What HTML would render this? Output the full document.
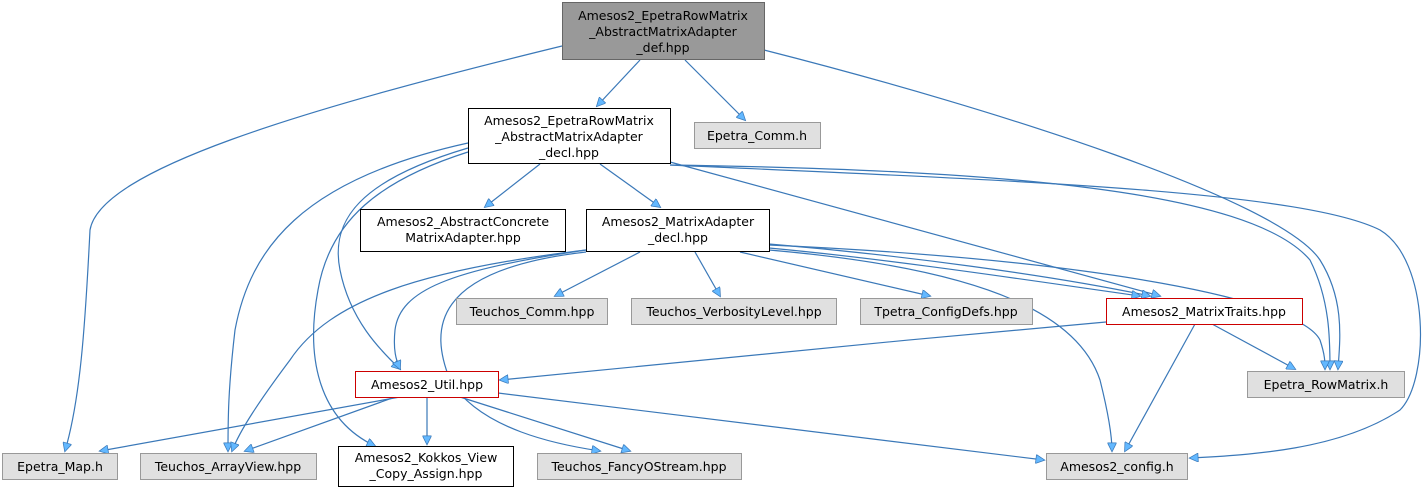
<!DOCTYPE html>
<html><head><meta charset="utf-8"><style>
html,body{margin:0;padding:0;background:#fff;}
svg{display:block;}
text{font-family:"DejaVu Sans","Liberation Sans",sans-serif;font-size:12.5px;fill:#000;}
.e{fill:none;stroke:#3a78b8;stroke-width:1.2;marker-end:url(#a);}
</style></head><body>
<svg width="1425" height="491" viewBox="0 0 1425 491">
<defs><marker id="a" viewBox="0 0 10 10" refX="9" refY="5" markerWidth="11" markerHeight="9" markerUnits="userSpaceOnUse" orient="auto"><path d="M0,0 L10,5 L0,10 z" fill="#63b8ff" stroke="#3a78b8" stroke-width="0.8"/></marker></defs>

<path class="e" d="M640,60 L597,106"/>
<path class="e" d="M685,60 L745,120"/>
<path class="e" d="M562,46 C300,110 100,170 90,230 C85,330 80,400 65,451"/>
<path class="e" d="M764,50 C1000,110 1280,200 1320,260 C1345,300 1340,340 1338,369"/>
<path class="e" d="M540,164 L485,207"/>
<path class="e" d="M600,164 L660,207"/>
<path class="e" d="M670,162 L1160,296"/>
<path class="e" d="M670,165 C1000,170 1250,190 1310,260 C1330,300 1330,340 1330,369"/>
<path class="e" d="M670,165 C1000,180 1300,190 1380,230 C1430,260 1430,380 1400,410 C1340,450 1250,455 1190,458"/>
<path class="e" d="M468,143 C300,180 250,250 235,330 C228,390 228,420 228,451"/>
<path class="e" d="M468,148 C360,180 330,220 340,270 C350,320 380,350 400,369"/>
<path class="e" d="M468,152 C380,180 330,220 318,290 C305,360 320,420 375,446"/>
<path class="e" d="M640,252 L555,296"/>
<path class="e" d="M695,252 L720,296"/>
<path class="e" d="M740,252 L930,296"/>
<path class="e" d="M769,244 C900,255 1050,275 1150,296"/>
<path class="e" d="M769,248 C900,260 1060,285 1140,296"/>
<path class="e" d="M586,250 C450,270 400,290 395,330 C393,350 396,360 400,369"/>
<path class="e" d="M586,250 C420,270 330,300 290,360 C260,400 240,430 232,451"/>
<path class="e" d="M586,252 C430,270 430,330 450,380 C480,430 560,445 600,451"/>
<path class="e" d="M769,250 C1000,270 1080,320 1100,380 C1110,420 1112,440 1112,451"/>
<path class="e" d="M769,245 C1100,260 1300,300 1320,340 C1325,355 1325,362 1325,369"/>
<path class="e" d="M1106,322 C900,340 650,365 500,380"/>
<path class="e" d="M1212,324 L1295,369"/>
<path class="e" d="M1195,324 L1125,451"/>
<path class="e" d="M400,397 L100,451"/>
<path class="e" d="M395,397 L245,451"/>
<path class="e" d="M427,397 L427,444"/>
<path class="e" d="M460,397 L630,451"/>
<path class="e" d="M498,393 L1044,460"/>

<rect x="562.5" y="2.5" width="202" height="57" fill="#999" stroke="#666"/>
<text x="663" y="20" text-anchor="middle">Amesos2_EpetraRowMatrix</text>
<text x="663" y="36" text-anchor="middle">_AbstractMatrixAdapter</text>
<text x="663" y="52" text-anchor="middle">_def.hpp</text>

<rect x="468.5" y="108.5" width="202" height="55" fill="#fff" stroke="#000"/>
<text x="569" y="125" text-anchor="middle">Amesos2_EpetraRowMatrix</text>
<text x="569" y="141" text-anchor="middle">_AbstractMatrixAdapter</text>
<text x="569" y="157" text-anchor="middle">_decl.hpp</text>

<rect x="694.5" y="122.5" width="126" height="26" fill="#e0e0e0" stroke="#999"/>
<text x="757" y="140" text-anchor="middle">Epetra_Comm.h</text>

<rect x="360.5" y="209.5" width="205" height="42" fill="#fff" stroke="#000"/>
<text x="463" y="226" text-anchor="middle">Amesos2_AbstractConcrete</text>
<text x="463" y="242" text-anchor="middle">MatrixAdapter.hpp</text>

<rect x="586.5" y="209.5" width="183" height="42" fill="#fff" stroke="#000"/>
<text x="678" y="226" text-anchor="middle">Amesos2_MatrixAdapter</text>
<text x="678" y="242" text-anchor="middle">_decl.hpp</text>

<rect x="456.5" y="298.5" width="151" height="26" fill="#e0e0e0" stroke="#999"/>
<text x="532" y="316" text-anchor="middle">Teuchos_Comm.hpp</text>

<rect x="631.5" y="298.5" width="205" height="26" fill="#e0e0e0" stroke="#999"/>
<text x="734" y="316" text-anchor="middle">Teuchos_VerbosityLevel.hpp</text>

<rect x="860.5" y="298.5" width="172" height="26" fill="#e0e0e0" stroke="#999"/>
<text x="946" y="316" text-anchor="middle">Tpetra_ConfigDefs.hpp</text>

<rect x="1106.5" y="298.5" width="196" height="26" fill="#fff" stroke="#c00"/>
<text x="1204" y="316" text-anchor="middle">Amesos2_MatrixTraits.hpp</text>

<rect x="355.5" y="371.5" width="143" height="26" fill="#fff" stroke="#c00"/>
<text x="427" y="389" text-anchor="middle">Amesos2_Util.hpp</text>

<rect x="1247.5" y="371.5" width="157" height="26" fill="#e0e0e0" stroke="#999"/>
<text x="1326" y="389" text-anchor="middle">Epetra_RowMatrix.h</text>

<rect x="2.5" y="453.5" width="115" height="26" fill="#e0e0e0" stroke="#999"/>
<text x="60" y="471" text-anchor="middle">Epetra_Map.h</text>

<rect x="140.5" y="453.5" width="176" height="26" fill="#e0e0e0" stroke="#999"/>
<text x="228" y="471" text-anchor="middle">Teuchos_ArrayView.hpp</text>

<rect x="338.5" y="446.5" width="175" height="40" fill="#fff" stroke="#000"/>
<text x="426" y="462" text-anchor="middle">Amesos2_Kokkos_View</text>
<text x="426" y="478" text-anchor="middle">_Copy_Assign.hpp</text>

<rect x="537.5" y="453.5" width="204" height="26" fill="#e0e0e0" stroke="#999"/>
<text x="639" y="471" text-anchor="middle">Teuchos_FancyOStream.hpp</text>

<rect x="1046.5" y="453.5" width="141" height="26" fill="#e0e0e0" stroke="#999"/>
<text x="1117" y="471" text-anchor="middle">Amesos2_config.h</text>
</svg>
</body></html>
